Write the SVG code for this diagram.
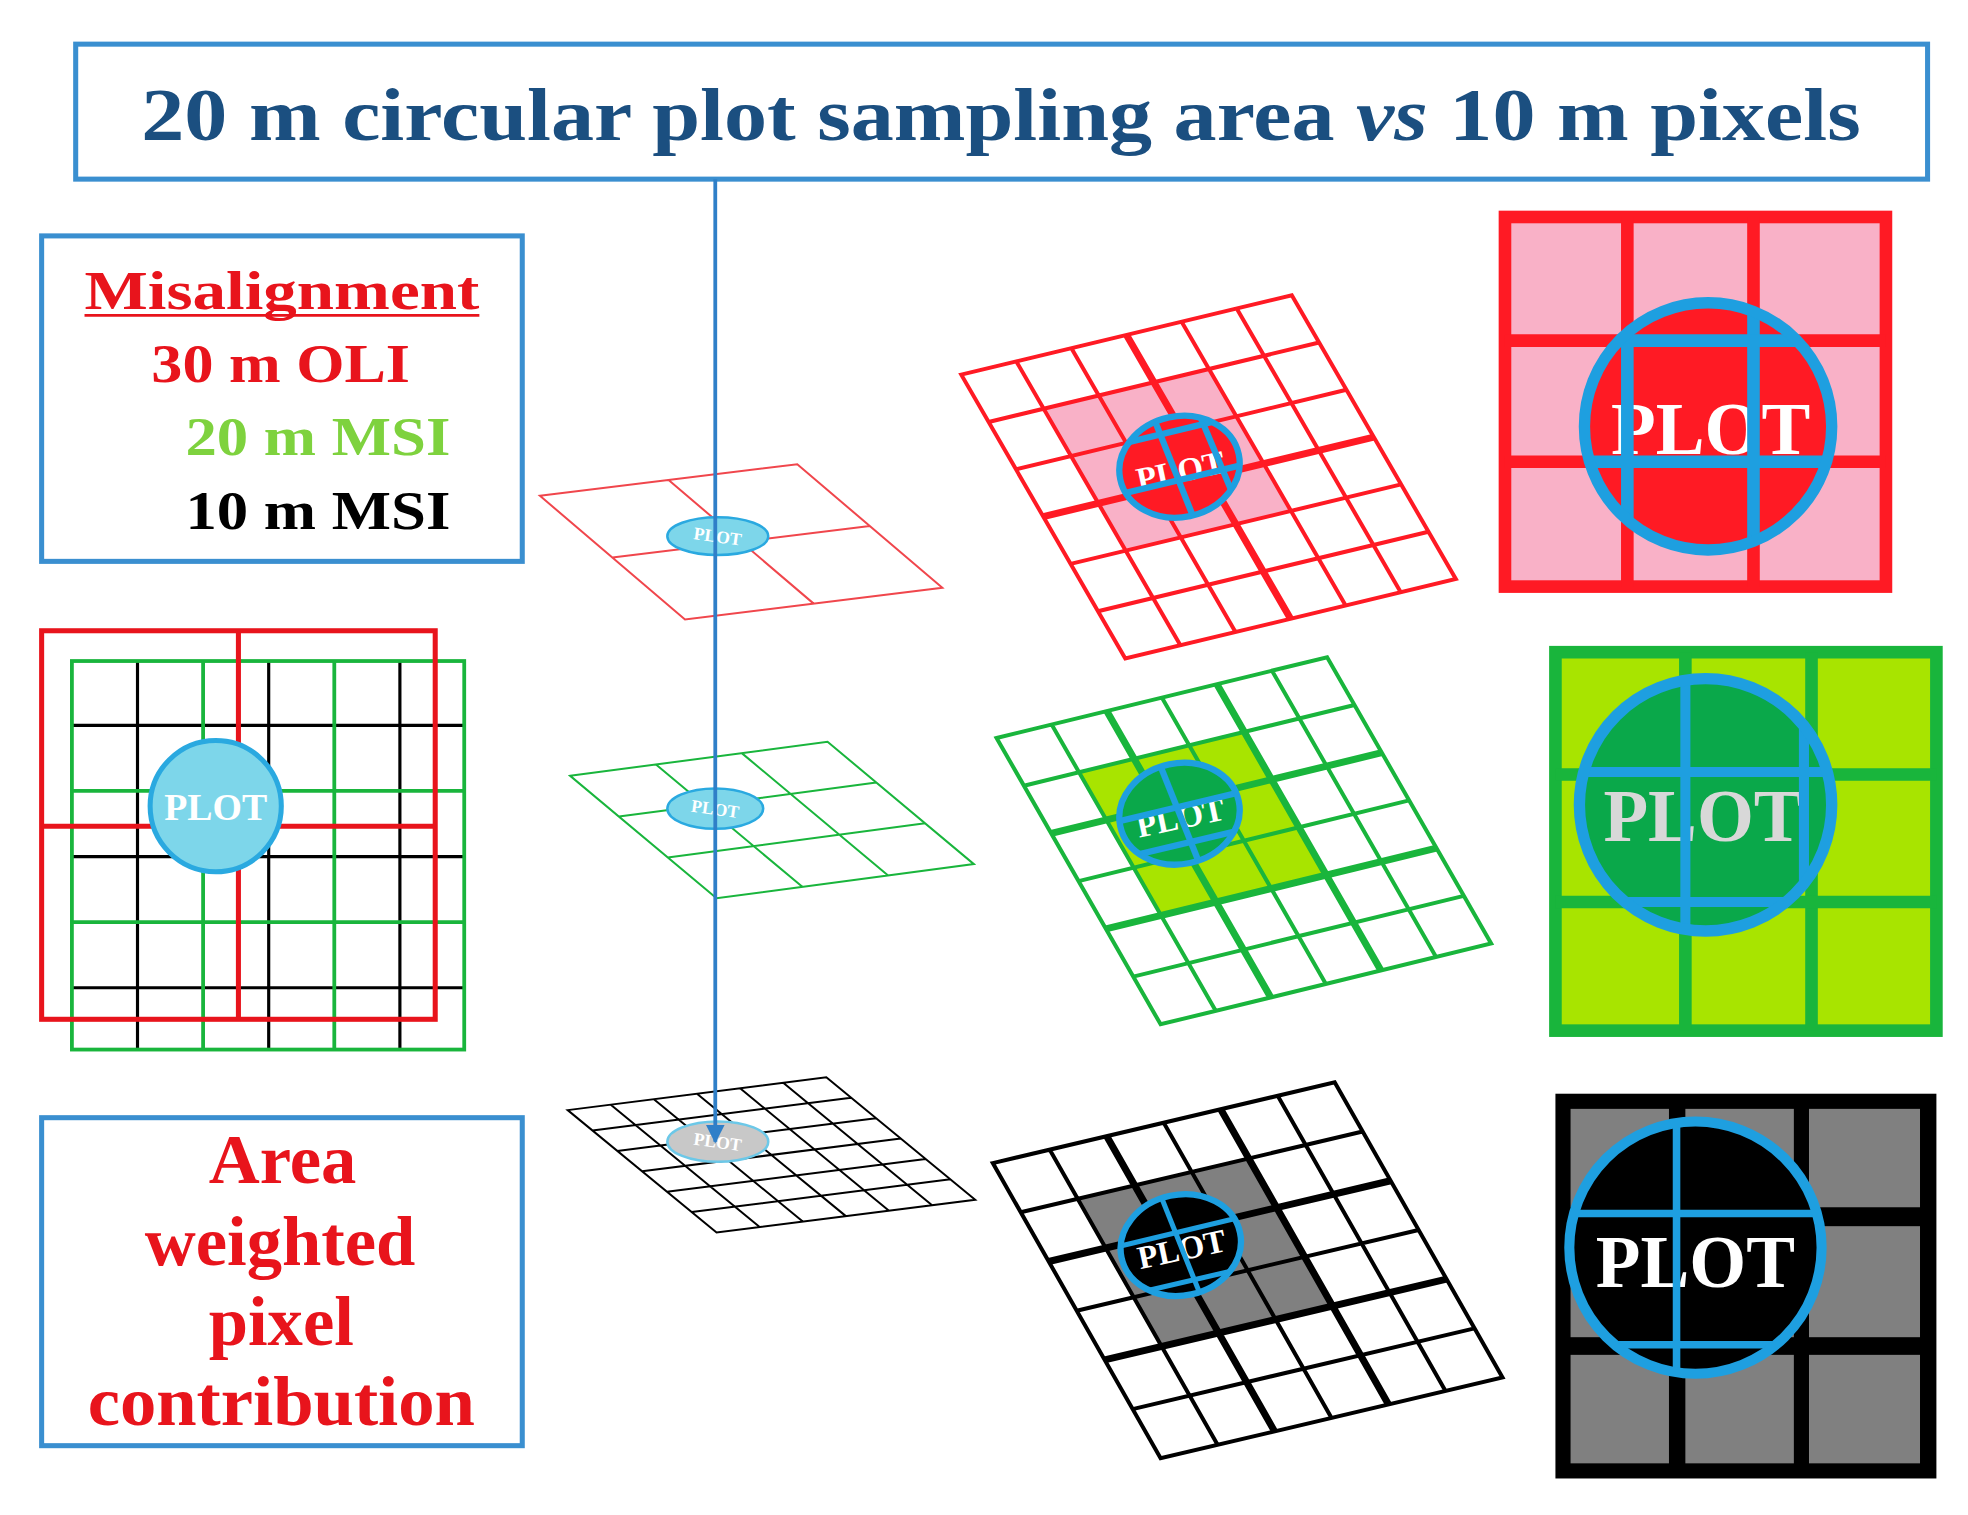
<svg xmlns="http://www.w3.org/2000/svg" width="1968" height="1515" viewBox="0 0 1968 1515">
<style>
.box{fill:#fff;stroke:#3a8fd0;stroke-width:4}
.ser{font-family:"Liberation Serif","DejaVu Serif",serif;font-weight:bold}
.g{fill:none;vector-effect:non-scaling-stroke}
.pl{fill:#fff;font-family:"Liberation Serif","DejaVu Serif",serif;font-weight:bold;text-anchor:middle}
.bl{stroke:#1e9fe0;fill:none}
</style>
<defs>
<marker id="ah" viewBox="0 0 10 10" refX="9" refY="5" markerWidth="5" markerHeight="5" orient="auto"><path d="M0,0 L10,5 L0,10 z" fill="#2f7fc8"/></marker>
<clipPath id="c1"><ellipse cx="935" cy="370" rx="48" ry="40" transform="rotate(-12 935 370)"/></clipPath>
<clipPath id="c2"><ellipse cx="935" cy="645" rx="48" ry="40" transform="rotate(-12 935 645)"/></clipPath>
<clipPath id="c3"><ellipse cx="936" cy="987" rx="48" ry="40" transform="rotate(-12 936 987)"/></clipPath>
<clipPath id="c4"><circle cx="1354" cy="338" r="98"/></clipPath>
<clipPath id="c5"><circle cx="1352" cy="638" r="100"/></clipPath>
<clipPath id="c6"><circle cx="1344" cy="989" r="100"/></clipPath>
</defs>
<rect width="1968" height="1515" fill="#fff"/>
<g transform="scale(1.2615)">
<g id="title"><rect class="box" x="60" y="35" width="1468" height="107"/>
<text class="ser" x="112" y="111" font-size="58" fill="#1b4f80" textLength="1363" lengthAdjust="spacingAndGlyphs">20 m circular plot sampling area <tspan font-style="italic">vs</tspan> 10 m pixels</text></g>

<g id="legend"><rect class="box" x="33" y="187" width="381" height="258"/>
<text class="ser" x="67" y="245" font-size="44" fill="#e8141c" textLength="313" lengthAdjust="spacingAndGlyphs">Misalignment</text>
<line x1="67" y1="250" x2="380" y2="250" stroke="#e8141c" stroke-width="2"/>
<text class="ser" x="120" y="303" font-size="44" fill="#e8141c" textLength="205" lengthAdjust="spacingAndGlyphs">30 m OLI</text>
<text class="ser" x="147" y="361" font-size="44" fill="#7ed23e" textLength="210" lengthAdjust="spacingAndGlyphs">20 m MSI</text>
<text class="ser" x="147" y="419" font-size="44" fill="#000" textLength="210" lengthAdjust="spacingAndGlyphs">10 m MSI</text></g>

<g id="area"><rect class="box" x="33" y="886" width="381" height="260"/>
<g class="ser" font-size="56" fill="#e8141c" text-anchor="middle">
<text x="224" y="938">Area</text><text x="222" y="1003">weighted</text><text x="223" y="1066">pixel</text><text x="223" y="1130" textLength="307" lengthAdjust="spacingAndGlyphs">contribution</text></g></g>

<g id="overlay">
<g stroke="#000" stroke-width="2.5"><line x1="109" y1="524" x2="109" y2="832"/><line x1="213" y1="524" x2="213" y2="832"/><line x1="317" y1="524" x2="317" y2="832"/>
<line x1="57" y1="575" x2="368" y2="575"/><line x1="57" y1="679" x2="368" y2="679"/><line x1="57" y1="783" x2="368" y2="783"/></g>
<g stroke="#19b53c" stroke-width="3" fill="none"><rect x="57" y="524" width="311" height="308"/><line x1="161" y1="524" x2="161" y2="832"/><line x1="265" y1="524" x2="265" y2="832"/><line x1="57" y1="627" x2="368" y2="627"/><line x1="57" y1="731" x2="368" y2="731"/></g>
<g stroke="#e8141c" stroke-width="4" fill="none"><rect x="33" y="500" width="312" height="308"/><line x1="189" y1="500" x2="189" y2="808"/><line x1="33" y1="655" x2="345" y2="655"/></g>
<circle cx="171" cy="639" r="52" fill="#7dd6ea" stroke="#2aa9e0" stroke-width="4"/>
<text class="pl" x="171" y="650" font-size="30">PLOT</text></g>

<g id="small-red"><g transform="matrix(102,-12.5,57.5,49,428,393)" stroke="#f0464c" stroke-width="2"><path class="g" d="M0,0H2V2H0Z M1,0V2 M0,1H2"/></g>
<ellipse cx="569" cy="425" rx="40" ry="15" fill="#7dd6ea" stroke="#2aa9e0" stroke-width="2"/><text class="pl" x="569" y="430" font-size="14" transform="rotate(8 569 425)">PLOT</text></g>
<g id="small-green"><g transform="matrix(68,-9,38.67,32.33,452,615)" stroke="#19b53c" stroke-width="2"><path class="g" d="M0,0H3V3H0Z M1,0V3 M2,0V3 M0,1H3 M0,2H3"/></g>
<ellipse cx="567" cy="641" rx="38" ry="16" fill="#7dd6ea" stroke="#2aa9e0" stroke-width="2"/><text class="pl" x="567" y="646" font-size="14" transform="rotate(8 567 641)">PLOT</text></g>
<g id="small-black"><g transform="matrix(34.17,-4.33,19.67,16.17,450,880)" stroke="#000" stroke-width="2"><path class="g" d="M0,0H6V6H0Z M1,0V6 M2,0V6 M3,0V6 M4,0V6 M5,0V6 M0,1H6 M0,2H6 M0,3H6 M0,4H6 M0,5H6"/></g>
<ellipse cx="569" cy="905" rx="40" ry="16" fill="#c8c8c8" stroke="#6cc8e8" stroke-width="2"/><text class="pl" x="569" y="910" font-size="14" transform="rotate(8 569 905)">PLOT</text></g>

<g id="connectors"><line x1="567" y1="142" x2="567" y2="905" stroke="#2f7fc8" stroke-width="3" marker-end="url(#ah)"/></g>

<g id="big-red"><g transform="matrix(43.67,-10.5,21.67,37.5,762,297)" stroke="#ff1a24"><rect x="1" y="1" width="3" height="3" fill="#f9b1c7" stroke="none"/>
<path class="g" stroke-width="4" d="M0,0H6V6H0Z M1,0V6 M2,0V6 M4,0V6 M5,0V6 M0,1H6 M0,2H6 M0,4H6 M0,5H6"/><path class="g" stroke-width="7" d="M3,0V6 M0,3H6"/></g>
<ellipse cx="935" cy="370" rx="48" ry="40" transform="rotate(-12 935 370)" fill="#ff1a24"/>
<text class="pl" x="935" y="382" font-size="26" transform="rotate(-12 935 370)">PLOT</text>
<g clip-path="url(#c1)" class="bl" stroke-width="5"><line x1="870" y1="396" x2="1000" y2="365"/><line x1="880" y1="354" x2="1000" y2="325"/><line x1="910" y1="320" x2="950" y2="420"/><line x1="945" y1="315" x2="985" y2="410"/></g>
<ellipse class="bl" cx="935" cy="370" rx="48" ry="40" transform="rotate(-12 935 370)" stroke-width="5"/></g>

<g id="big-green"><g transform="matrix(43.67,-10.67,21.67,37.83,790,585)" stroke="#19b53c"><rect x="1" y="1" width="3" height="3" fill="#a8e400" stroke="none"/>
<path class="g" stroke-width="4" d="M0,0H6V6H0Z M1,0V6 M3,0V6 M5,0V6 M0,1H6 M0,3H6 M0,5H6"/><path class="g" stroke-width="7" d="M2,0V6 M4,0V6 M0,2H6 M0,4H6"/></g>
<ellipse cx="935" cy="645" rx="48" ry="40" transform="rotate(-12 935 645)" fill="#0aa84a"/>
<text class="pl" x="935" y="657" font-size="26" transform="rotate(-12 935 645)">PLOT</text>
<g clip-path="url(#c2)" class="bl" stroke-width="5"><line x1="870" y1="655" x2="1000" y2="624"/><line x1="870" y1="685" x2="1000" y2="654"/><line x1="915" y1="595" x2="955" y2="695"/></g>
<ellipse class="bl" cx="935" cy="645" rx="48" ry="40" transform="rotate(-12 935 645)" stroke-width="5"/></g>

<g id="big-black"><g transform="matrix(45.17,-10.67,22.17,39,787,922)" stroke="#000"><rect x="1" y="1" width="3" height="3" fill="#808080" stroke="none"/>
<path class="g" stroke-width="4" d="M0,0H6V6H0Z M1,0V6 M3,0V6 M5,0V6 M0,1H6 M0,3H6 M0,5H6"/><path class="g" stroke-width="7" d="M2,0V6 M4,0V6 M0,2H6 M0,4H6"/></g>
<ellipse cx="936" cy="987" rx="48" ry="40" transform="rotate(-12 936 987)" fill="#000"/>
<text class="pl" x="936" y="999" font-size="26" transform="rotate(-12 936 987)">PLOT</text>
<g clip-path="url(#c3)" class="bl" stroke-width="4"><line x1="870" y1="992" x2="1000" y2="961"/><line x1="880" y1="1030" x2="1000" y2="1002"/><line x1="915" y1="935" x2="955" y2="1035"/></g>
<ellipse class="bl" cx="936" cy="987" rx="48" ry="40" transform="rotate(-12 936 987)" stroke-width="5"/></g>

<g id="square-red"><rect x="1193" y="172" width="302" height="293" fill="#f9b1c7"/>
<g stroke="#ff1a24" stroke-width="10" fill="none"><rect x="1193" y="172" width="302" height="293"/><line x1="1290" y1="172" x2="1290" y2="465"/><line x1="1390" y1="172" x2="1390" y2="465"/><line x1="1193" y1="270" x2="1495" y2="270"/><line x1="1193" y1="366" x2="1495" y2="366"/></g>
<circle cx="1354" cy="338" r="98" fill="#ff1a24"/>
<text class="pl" x="1356" y="360" font-size="58">PLOT</text>
<g clip-path="url(#c4)" stroke="#1e9fe0" stroke-width="10"><line x1="1290" y1="230" x2="1290" y2="450"/><line x1="1390" y1="230" x2="1390" y2="450"/><line x1="1250" y1="270" x2="1460" y2="270"/><line x1="1250" y1="366" x2="1460" y2="366"/></g>
<circle class="bl" cx="1354" cy="338" r="98" stroke-width="9"/></g>

<g id="square-green"><rect x="1233" y="517" width="302" height="300" fill="#a8e400"/>
<g stroke="#19b53c" stroke-width="10" fill="none"><rect x="1233" y="517" width="302" height="300"/><line x1="1336" y1="517" x2="1336" y2="817"/><line x1="1436" y1="517" x2="1436" y2="817"/><line x1="1233" y1="614" x2="1535" y2="614"/><line x1="1233" y1="715" x2="1535" y2="715"/></g>
<circle cx="1352" cy="638" r="100" fill="#0aa84a"/>
<text class="pl" x="1350" y="667" font-size="58" style="fill:#d8d8d8">PLOT</text>
<g clip-path="url(#c5)" stroke="#1e9fe0" stroke-width="8"><line x1="1336" y1="530" x2="1336" y2="750"/><line x1="1430" y1="530" x2="1430" y2="750"/><line x1="1240" y1="612" x2="1460" y2="612"/><line x1="1240" y1="715" x2="1460" y2="715"/></g>
<circle class="bl" cx="1352" cy="638" r="100" stroke-width="9"/></g>

<g id="square-black"><rect x="1233" y="867" width="302" height="305" fill="#000"/>
<g fill="#808080"><rect x="1245" y="879" width="78" height="78"/><rect x="1336" y="879" width="86" height="78"/><rect x="1434" y="879" width="88" height="78"/>
<rect x="1245" y="972" width="78" height="88"/><rect x="1336" y="972" width="86" height="88"/><rect x="1434" y="972" width="88" height="88"/>
<rect x="1245" y="1074" width="78" height="86"/><rect x="1336" y="1074" width="86" height="86"/><rect x="1434" y="1074" width="88" height="86"/></g>
<circle cx="1344" cy="989" r="100" fill="#000"/>
<text class="pl" x="1344" y="1020" font-size="58">PLOT</text>
<g clip-path="url(#c6)" stroke="#1e9fe0" stroke-width="6"><line x1="1329" y1="880" x2="1329" y2="1100"/><line x1="1240" y1="962" x2="1450" y2="962"/><line x1="1240" y1="1066" x2="1450" y2="1066"/></g>
<circle class="bl" cx="1344" cy="989" r="100" stroke-width="8"/></g>
</g>
</svg>
